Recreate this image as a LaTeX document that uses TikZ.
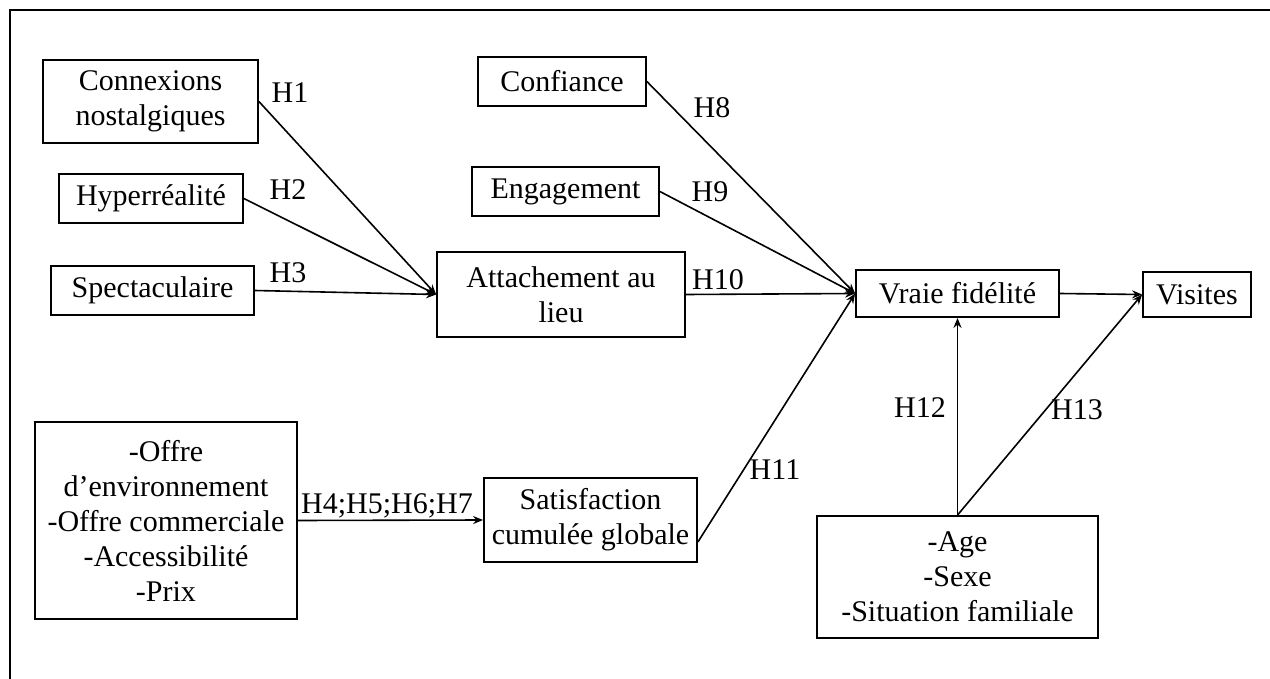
\documentclass[tikz,border=0pt]{standalone}
\usepackage{fontspec}
\setmainfont{Liberation Serif}
\usepackage{tikz}
\usetikzlibrary{arrows.meta}

\begin{document}
\begin{tikzpicture}[x=1pt, y=-1pt,
    block/.style={rectangle, draw, line width=1.8pt, align=center, inner sep=0pt, font=\fontsize{30}{35}\selectfont},
    hyp/.style={inner sep=0pt, font=\fontsize{30}{35}\selectfont},
    arrow/.style={line width=1.6pt,->,>={Stealth[length=10pt,width=8pt]}}]

    \useasboundingbox (0,0) rectangle (1270,679);
    \draw [line width=2.2pt] (10,679) -- (10,10) -- (1270,10);

    \node [block, minimum width=215pt, minimum height=83pt] (conn) at (150.5,101.5) {Connexions\\nostalgiques};
    \node [block, minimum width=184pt, minimum height=49pt] (hyper) at (151,198.5) {Hyperréalité};
    \node [block, minimum width=203pt, minimum height=49pt] (spect) at (152.5,290.5) {Spectaculaire};
    \node [block, minimum width=248pt, minimum height=85pt] (attach) at (561,294.5) {Attachement au\\lieu};
    \node [block, minimum width=168pt, minimum height=49pt] (conf) at (562,81.5) {Confiance};
    \node [block, minimum width=187pt, minimum height=49pt] (engag) at (565.5,191.5) {Engagement};
    \node [block, minimum width=203pt, minimum height=47pt] (vraie) at (957.5,293.5) {Vraie fidélité};
    \node [block, minimum width=108pt, minimum height=45pt] (visites) at (1197,294.5) {Visites};
    \node [block, minimum width=262pt, minimum height=197pt] (offre) at (166,520.5) {-Offre\\d’environnement\\-Offre commerciale\\-Accessibilité\\-Prix};
    \node [block, minimum width=213pt, minimum height=84pt] (satis) at (590.5,520) {Satisfaction\\cumulée globale};
    \node [block, minimum width=281pt, minimum height=122pt] (age) at (957.5,577) {-Age\\-Sexe\\-Situation familiale};

    \node [hyp] (h1) at (290,93) {H1};
    \node [hyp] (h2) at (288,190) {H2};
    \node [hyp] (h3) at (288,273) {H3};
    \node [hyp] (h47) at (387,506) {H4;H5;H6;H7};
    \node [hyp] (h8) at (712,108) {H8};
    \node [hyp] (h9) at (710,192) {H9};
    \node [hyp] (h10) at (718,280) {H10};
    \node [hyp] (h11) at (775,470) {H11};
    \node [hyp] (h12) at (920,408) {H12};
    \node [hyp] (h13) at (1077,410) {H13};

    \draw [arrow] (conn.east) -- (attach.west);
    \draw [arrow] (hyper.east) -- (attach.west);
    \draw [arrow] (spect.east) -- (attach.west);
    \draw [arrow] (conf.east) -- (vraie.west);
    \draw [arrow] (engag.east) -- (vraie.west);
    \draw [arrow] (attach.east) -- (vraie.west);
    \draw [arrow] ([yshift=-22pt]satis.east) -- (vraie.west);
    \draw [arrow] (offre.east) -- (satis.west);
    \draw [arrow] (vraie.east) -- (visites.west);
    \draw [arrow] (age.north) -- (vraie.south);
    \draw [arrow] (age.north) -- (visites.west);
\end{tikzpicture}
\end{document}
